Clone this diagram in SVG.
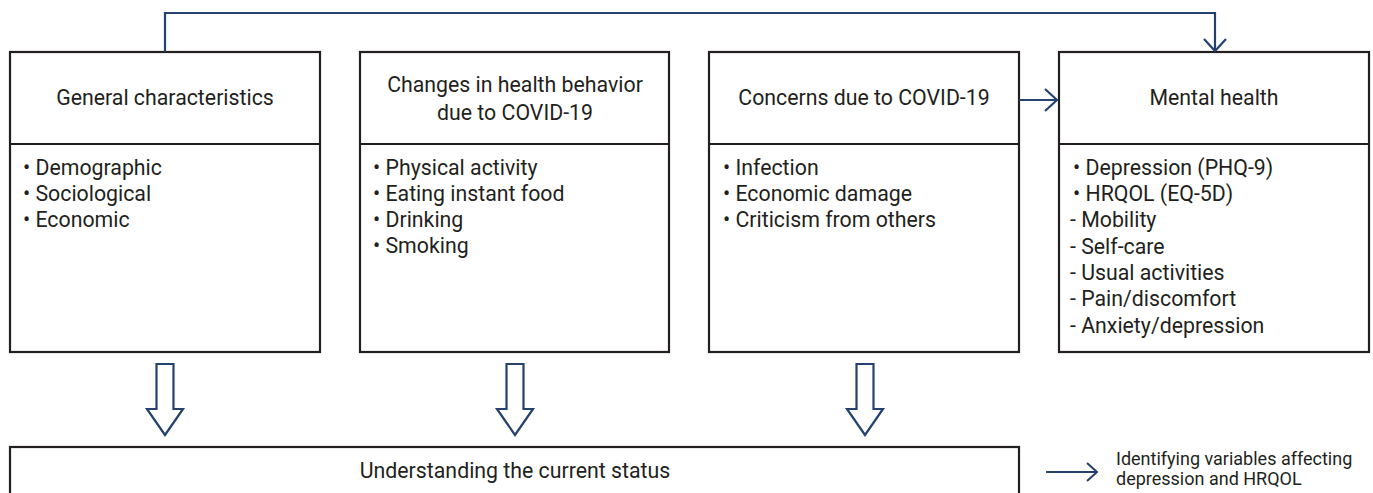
<svg xmlns="http://www.w3.org/2000/svg" width="1373" height="493" viewBox="0 0 1373 493">
  <style>
    .box { fill: #ffffff; stroke: #231f20; stroke-width: 2.2; }
    .div { stroke: #231f20; stroke-width: 2.2; }
    .title { font-family: Roboto, "Liberation Sans", sans-serif; font-size: 21.3px; fill: #231f20; text-anchor: middle; }
    .item { font-family: Roboto, "Liberation Sans", sans-serif; font-size: 21.3px; fill: #231f20; }
    .note { font-family: Roboto, "Liberation Sans", sans-serif; font-size: 18px; fill: #231f20; }
    .link { fill: none; stroke: #25416e; stroke-width: 2.2; }
    .hollow { fill: #ffffff; stroke: #25416e; stroke-width: 2.2; stroke-linejoin: miter; }
  </style>
  <defs>
    <marker id="chev" viewBox="0 0 14 24" refX="13" refY="12" markerWidth="14" markerHeight="24" markerUnits="userSpaceOnUse" orient="auto">
      <path d="M1,1 L13,12 L1,23" fill="none" stroke="#25416e" stroke-width="2.2"/>
    </marker>
    <marker id="chevSmall" viewBox="0 0 12 20" refX="11" refY="10" markerWidth="12" markerHeight="20" markerUnits="userSpaceOnUse" orient="auto">
      <path d="M1,1 L11,10 L1,19" fill="none" stroke="#25416e" stroke-width="2"/>
    </marker>
    <path id="downArrow" d="M-8.5,0 H8.5 V45 H18 L0,71 L-18,45 H-8.5 Z"/>
  </defs>

  <g id="general">
    <rect class="box" x="10" y="52" width="310" height="300"/>
    <line class="div" x1="10" y1="144" x2="320" y2="144"/>
    <text class="title" x="165" y="105">General characteristics</text>
    <text class="item" x="23" y="175">• Demographic</text>
    <text class="item" x="23" y="201">• Sociological</text>
    <text class="item" x="23" y="227">• Economic</text>
  </g>

  <g id="health-behavior">
    <rect class="box" x="360" y="52" width="309" height="300"/>
    <line class="div" x1="360" y1="144" x2="669" y2="144"/>
    <text class="title" x="515" y="92">Changes in health behavior</text>
    <text class="title" x="515" y="120">due to COVID-19</text>
    <text class="item" x="373" y="175">• Physical activity</text>
    <text class="item" x="373" y="201">• Eating instant food</text>
    <text class="item" x="373" y="227">• Drinking</text>
    <text class="item" x="373" y="253">• Smoking</text>
  </g>

  <g id="concerns">
    <rect class="box" x="709" y="52" width="310" height="300"/>
    <line class="div" x1="709" y1="144" x2="1019" y2="144"/>
    <text class="title" x="864" y="105">Concerns due to COVID-19</text>
    <text class="item" x="723" y="175">• Infection</text>
    <text class="item" x="723" y="201">• Economic damage</text>
    <text class="item" x="723" y="227">• Criticism from others</text>
  </g>

  <g id="mental-health">
    <rect class="box" x="1059" y="52" width="310" height="300"/>
    <line class="div" x1="1059" y1="144" x2="1369" y2="144"/>
    <text class="title" x="1214" y="105">Mental health</text>
    <text class="item" x="1073" y="175">• Depression (PHQ-9)</text>
    <text class="item" x="1073" y="201">• HRQOL (EQ-5D)</text>
    <text class="item" x="1070" y="227">- Mobility</text>
    <text class="item" x="1070" y="254">- Self-care</text>
    <text class="item" x="1070" y="280">- Usual activities</text>
    <text class="item" x="1070" y="306">- Pain/discomfort</text>
    <text class="item" x="1070" y="333">- Anxiety/depression</text>
  </g>

  <g id="current-status">
    <rect class="box" x="10" y="447" width="1009" height="70"/>
    <text class="title" x="515" y="478">Understanding the current status</text>
  </g>

  <g id="result">
    <text class="note" x="1116" y="465">Identifying variables affecting</text>
    <text class="note" x="1116" y="485">depression and HRQOL</text>
  </g>

  <g id="connectors">
    <path class="link" d="M165,52 V13 H1215 V51" marker-end="url(#chev)"/>
    <path class="link" d="M1019,100 H1057" marker-end="url(#chev)"/>
    <path class="link" d="M1046,472 H1097" marker-end="url(#chevSmall)"/>
    <use href="#downArrow" class="hollow" x="165" y="364"/>
    <use href="#downArrow" class="hollow" x="515" y="364"/>
    <use href="#downArrow" class="hollow" x="865" y="364"/>
  </g>
</svg>
